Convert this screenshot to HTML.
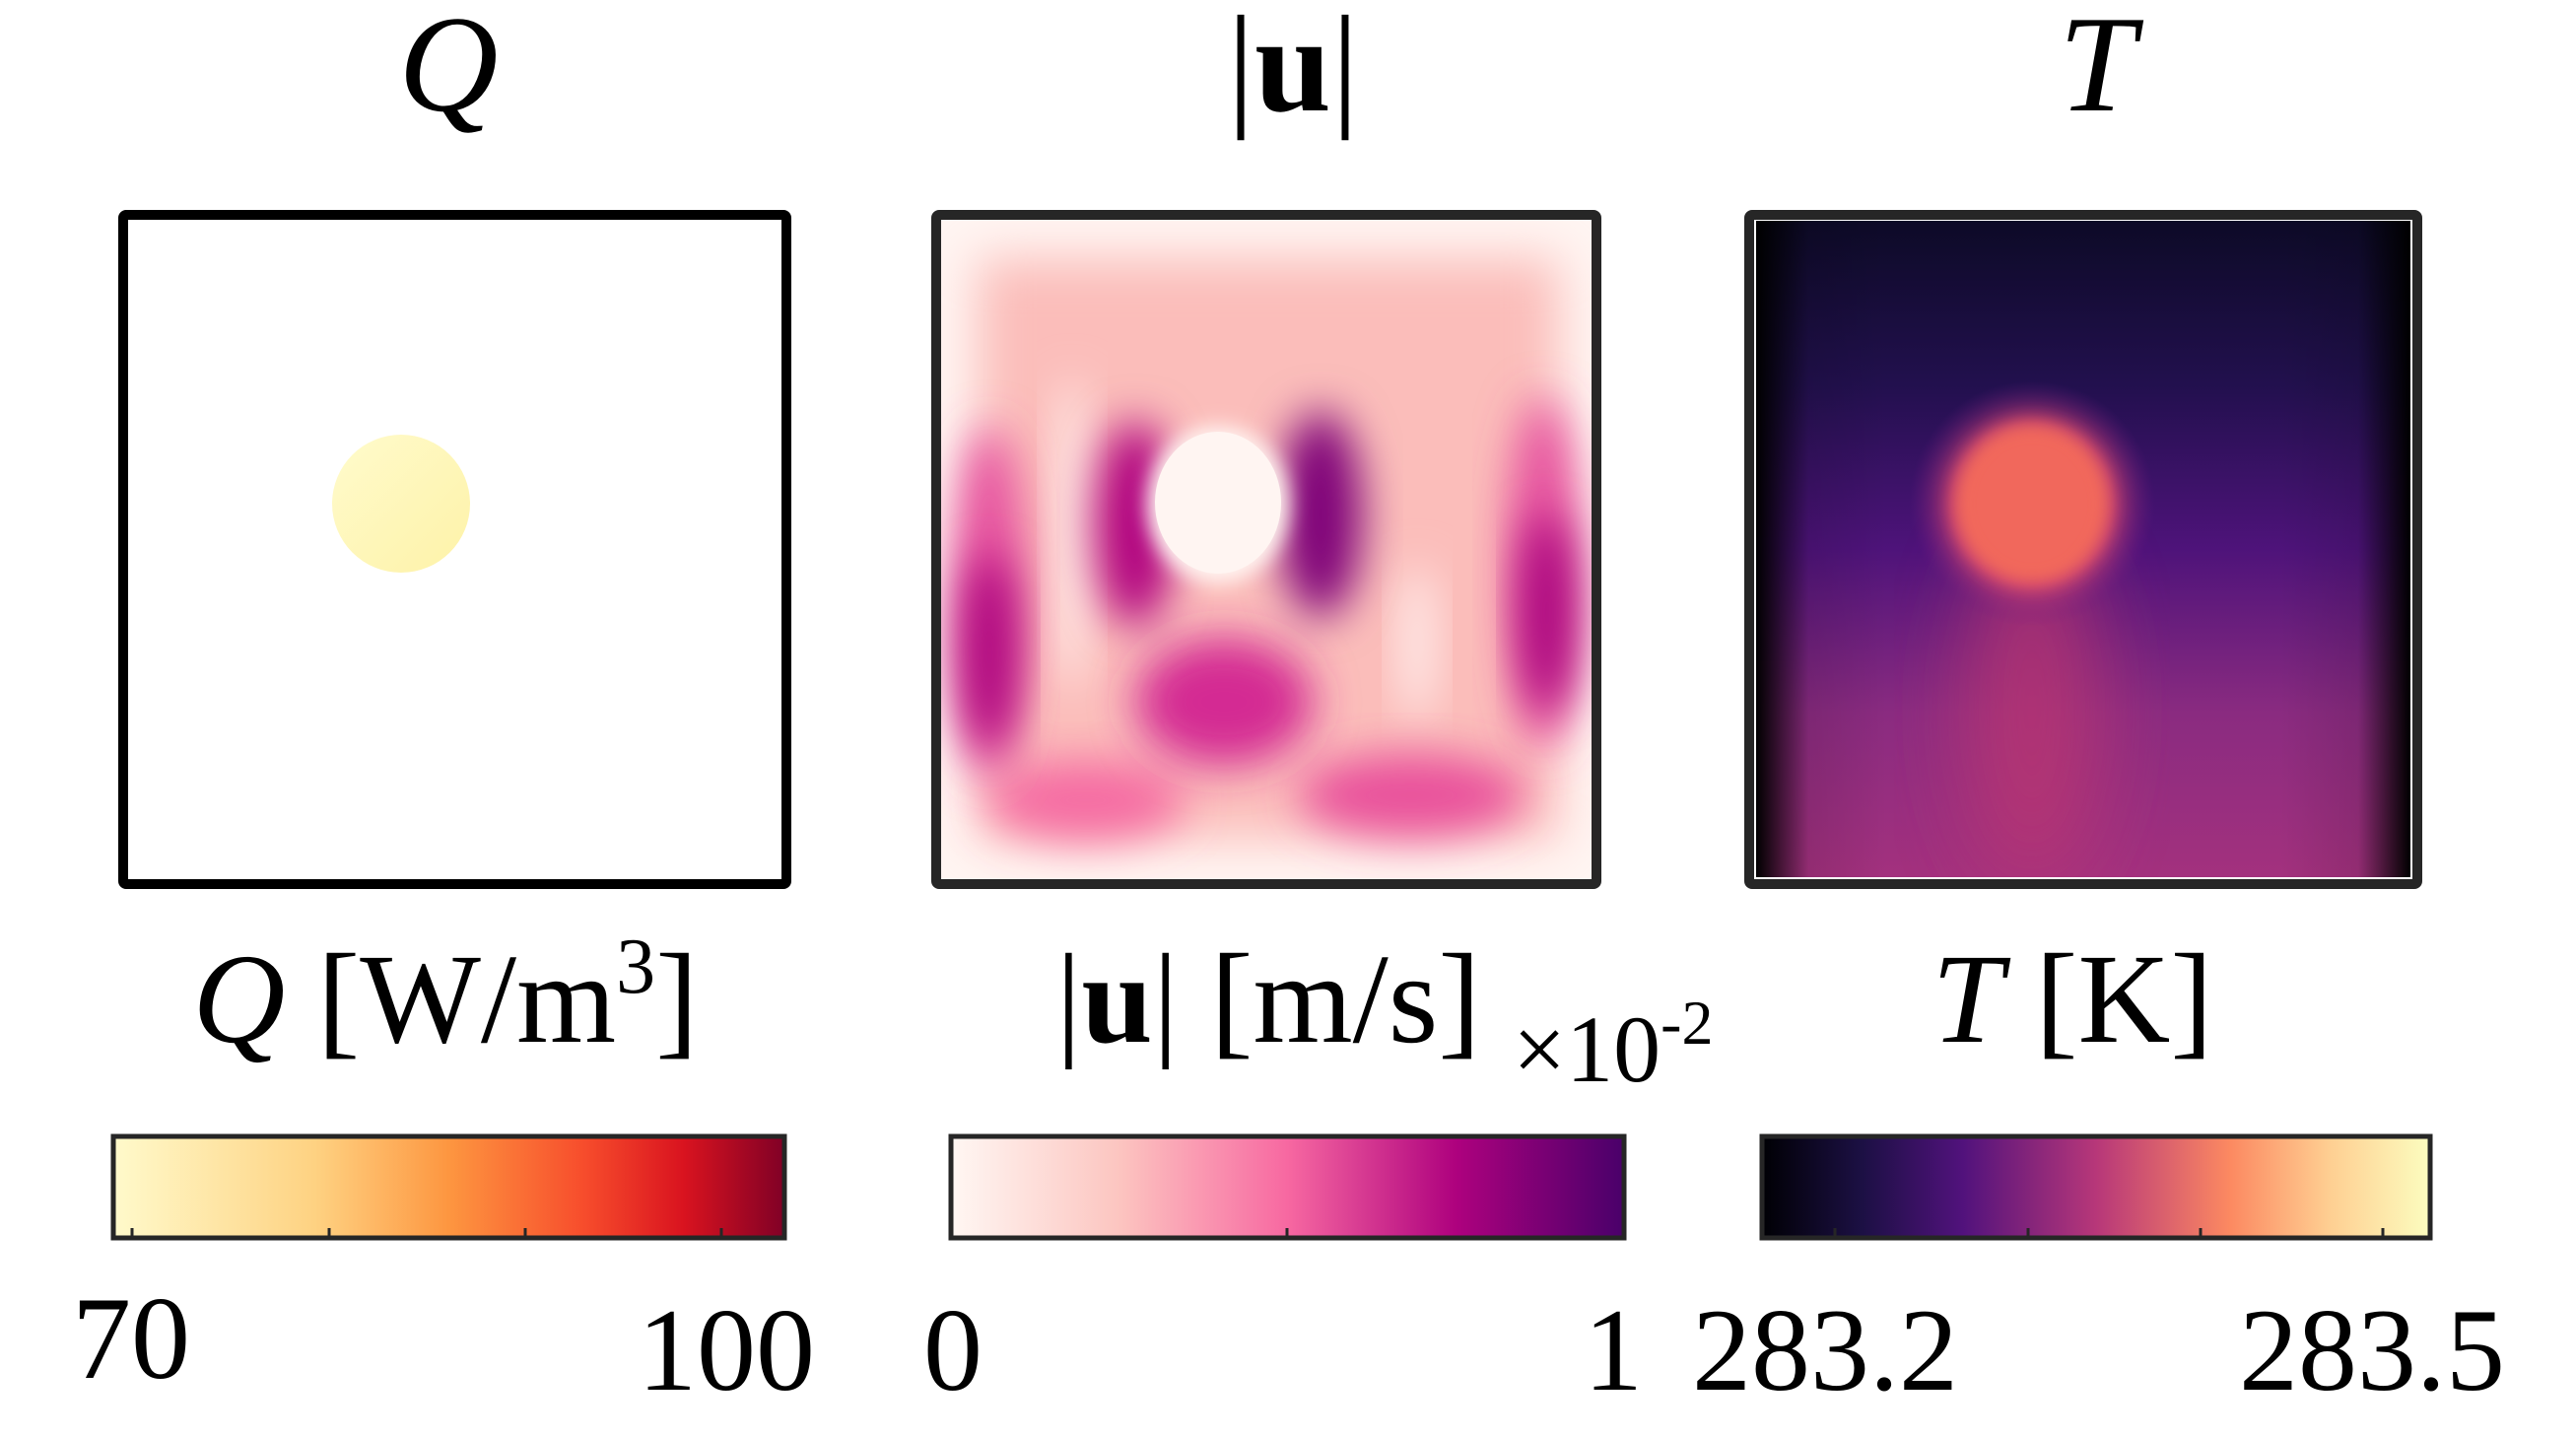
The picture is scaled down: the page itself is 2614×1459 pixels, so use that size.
<!DOCTYPE html>
<html><head><meta charset="utf-8"><style>
html,body{margin:0;padding:0;background:#fff;}
svg{display:block;}
text{font-family:"Liberation Serif",serif;fill:#000;}
</style></head><body>
<svg width="2614" height="1459" viewBox="0 0 2614 1459" xmlns="http://www.w3.org/2000/svg">
<defs>
<filter id="b1" x="-50%" y="-50%" width="200%" height="200%"><feGaussianBlur stdDeviation="25"/></filter>
<filter id="b2" x="-50%" y="-50%" width="200%" height="200%"><feGaussianBlur stdDeviation="22"/></filter>
<filter id="b4" x="-50%" y="-50%" width="200%" height="200%"><feGaussianBlur stdDeviation="10"/></filter>
<filter id="b3" x="-50%" y="-50%" width="200%" height="200%"><feGaussianBlur stdDeviation="40"/></filter>
<clipPath id="c2"><rect x="950" y="218" width="670" height="678"/></clipPath>
<clipPath id="c3"><rect x="1782" y="224" width="664" height="666"/></clipPath>
<linearGradient id="gQ" x1="0" x2="1"><stop offset="0" stop-color="#fffacb"/><stop offset="0.3" stop-color="#fed282"/><stop offset="0.5" stop-color="#fd9640"/><stop offset="0.7" stop-color="#f74d2c"/><stop offset="0.85" stop-color="#d9131f"/><stop offset="1" stop-color="#800026"/></linearGradient>
<linearGradient id="gU" x1="0" x2="1"><stop offset="0" stop-color="#fff7f3"/><stop offset="0.25" stop-color="#fcc5c0"/><stop offset="0.5" stop-color="#f768a1"/><stop offset="0.75" stop-color="#ae017e"/><stop offset="1" stop-color="#49006a"/></linearGradient>
<linearGradient id="gT" x1="0" x2="1"><stop offset="0" stop-color="#000004"/><stop offset="0.15" stop-color="#1c1044"/><stop offset="0.3" stop-color="#51127c"/><stop offset="0.5" stop-color="#b73779"/><stop offset="0.7" stop-color="#fc8961"/><stop offset="0.85" stop-color="#fecf92"/><stop offset="1" stop-color="#fcfdbf"/></linearGradient>
<linearGradient id="tv" x1="0" y1="0" x2="0" y2="1"><stop offset="0" stop-color="#0d0a27"/><stop offset="0.25" stop-color="#22104e"/><stop offset="0.5" stop-color="#4e137a"/><stop offset="0.75" stop-color="#8a2b80"/><stop offset="1" stop-color="#a3317e"/></linearGradient>
<linearGradient id="th" x1="0" x2="1"><stop offset="0" stop-color="#000" stop-opacity="1"/><stop offset="0.08" stop-color="#000" stop-opacity="0.1"/><stop offset="0.2" stop-color="#000" stop-opacity="0"/><stop offset="0.8" stop-color="#000" stop-opacity="0"/><stop offset="0.92" stop-color="#000" stop-opacity="0.1"/><stop offset="1" stop-color="#000" stop-opacity="1"/></linearGradient>
<radialGradient id="tg"><stop offset="0.5" stop-color="#f1675c"/><stop offset="0.65" stop-color="#d9466f" stop-opacity="0.8"/><stop offset="1" stop-color="#6a1a80" stop-opacity="0"/></radialGradient>
<linearGradient id="qc" x1="0" y1="0" x2="1" y2="1"><stop offset="0" stop-color="#fffbcc"/><stop offset="1" stop-color="#fef2a8"/></linearGradient>
</defs>

<text x="455" y="112" font-size="140" font-style="italic" text-anchor="middle">Q</text>
<text x="1312" y="112" font-size="140" text-anchor="middle">|<tspan font-weight="bold">u</tspan>|</text>
<text x="2128" y="112" font-size="140" font-style="italic" text-anchor="middle">T</text>

<rect x="125" y="218" width="673" height="679" rx="3" fill="#fff" stroke="#000" stroke-width="10"/>
<ellipse cx="407" cy="511" rx="70" ry="70" fill="url(#qc)"/>

<g clip-path="url(#c2)">
<rect x="950" y="218" width="670" height="678" fill="#fff5f2"/>
<g transform="translate(952,212)">
<rect x="40" y="50" width="590" height="590" fill="#fbbdba" filter="url(#b1)"/>
<ellipse cx="136" cy="330" rx="18" ry="160" fill="#fff0ee" filter="url(#b2)"/>
<ellipse cx="486" cy="440" rx="18" ry="80" fill="#fff0ee" filter="url(#b2)"/>
<ellipse cx="150" cy="600" rx="100" ry="40" fill="#f56ca3" filter="url(#b2)"/>
<ellipse cx="480" cy="595" rx="115" ry="42" fill="#e9519b" filter="url(#b2)"/>
<ellipse cx="290" cy="500" rx="90" ry="65" fill="#d42c93" filter="url(#b2)"/>
<ellipse cx="52" cy="400" rx="36" ry="180" fill="#e54b9c" filter="url(#b2)"/>
<ellipse cx="52" cy="450" rx="26" ry="100" fill="#a8017d" filter="url(#b2)"/>
<ellipse cx="614" cy="370" rx="36" ry="180" fill="#e54b9c" filter="url(#b2)"/>
<ellipse cx="618" cy="410" rx="26" ry="100" fill="#a6017d" filter="url(#b2)"/>
<ellipse cx="200" cy="320" rx="40" ry="105" fill="#b0067f" filter="url(#b2)"/>
<ellipse cx="388" cy="310" rx="42" ry="105" fill="#7e0178" filter="url(#b2)"/>
<ellipse cx="284" cy="300" rx="72" ry="80" fill="#fff5f2" filter="url(#b4)"/>
<ellipse cx="284" cy="298" rx="64" ry="72" fill="#fff5f2"/>
</g>
</g>
<rect x="950" y="218" width="670" height="679" rx="3" fill="none" stroke="#262626" stroke-width="10"/>

<rect x="1779" y="221" width="670" height="672" fill="#fff"/>
<g clip-path="url(#c3)">
<rect x="1782" y="224" width="664" height="666" fill="url(#tv)"/>
<rect x="1782" y="224" width="664" height="666" fill="url(#th)"/>
<ellipse cx="2062" cy="720" rx="70" ry="180" fill="#c0386f" opacity="0.7" filter="url(#b3)"/>
<ellipse cx="2062" cy="511" rx="125" ry="125" fill="url(#tg)"/>
<ellipse cx="2062" cy="511" rx="76" ry="80" fill="#f1675c" filter="url(#b4)"/>
</g>
<rect x="1775" y="218" width="678" height="679" rx="3" fill="none" stroke="#262626" stroke-width="10"/>

<text x="452" y="1057" font-size="130" text-anchor="middle"><tspan font-style="italic">Q</tspan> [W/m<tspan font-size="80" dy="-50">3</tspan><tspan dy="50">]</tspan></text>
<text x="1287" y="1057" font-size="130" text-anchor="middle">|<tspan font-weight="bold">u</tspan>| [m/s]</text>
<text x="1535" y="1097" font-size="96">×10<tspan font-size="64" dy="-38">-2</tspan></text>
<text x="2103" y="1057" font-size="130" text-anchor="middle"><tspan font-style="italic">T</tspan> [K]</text>

<rect x="115" y="1153" width="681" height="103" fill="url(#gQ)" stroke="#262626" stroke-width="5"/>
<g stroke="#262626" stroke-width="3"><line x1="134" y1="1256" x2="134" y2="1246"/><line x1="334" y1="1256" x2="334" y2="1246"/><line x1="533" y1="1256" x2="533" y2="1246"/><line x1="732" y1="1256" x2="732" y2="1246"/></g>
<rect x="965" y="1153" width="683" height="103" fill="url(#gU)" stroke="#262626" stroke-width="5"/>
<g stroke="#262626" stroke-width="3"><line x1="1306" y1="1256" x2="1306" y2="1246"/></g>
<rect x="1788" y="1153" width="678" height="103" fill="url(#gT)" stroke="#262626" stroke-width="5"/>
<g stroke="#262626" stroke-width="3"><line x1="1862" y1="1256" x2="1862" y2="1246"/><line x1="2058" y1="1256" x2="2058" y2="1246"/><line x1="2233" y1="1256" x2="2233" y2="1246"/><line x1="2418" y1="1256" x2="2418" y2="1246"/></g>

<g font-size="120">
<text x="133" y="1398" text-anchor="middle">70</text>
<text x="737" y="1410" text-anchor="middle">100</text>
<text x="967" y="1410" text-anchor="middle">0</text>
<text x="1637" y="1410" text-anchor="middle">1</text>
<text x="1852" y="1410" text-anchor="middle">283.2</text>
<text x="2407" y="1410" text-anchor="middle">283.5</text>
</g>
</svg>
</body></html>
